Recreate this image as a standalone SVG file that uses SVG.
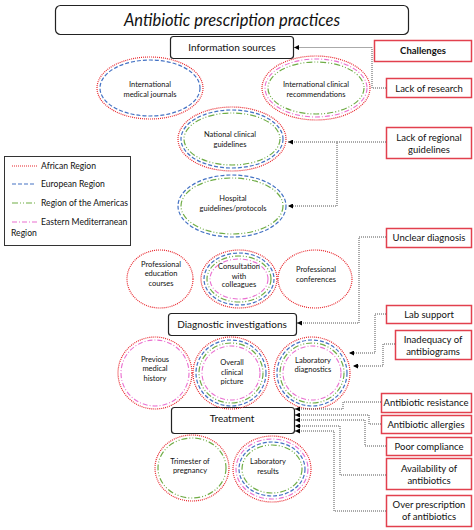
<svg xmlns="http://www.w3.org/2000/svg" width="474" height="530" viewBox="0 0 474 530">
<style>
text{font-family:Lato,"Liberation Sans",sans-serif;fill:#111;text-anchor:middle}
.box{fill:#fff;stroke:#222;stroke-width:1.2}
.ch{fill:#fff;stroke:#e2404e;stroke-width:1.5}
.ct{font-size:9.5px}
.et{font-size:7.5px}
.lt{font-size:8.6px;text-anchor:start}
.af{fill:none;stroke:#e8262c;stroke-width:1.2;stroke-dasharray:1 1}
.eu{fill:none;stroke:#4472c4;stroke-width:1.2;stroke-dasharray:4 2}
.am{fill:none;stroke:#70ad47;stroke-width:1.2;stroke-dasharray:6 2 1 2 1 2}
.em{fill:none;stroke:#ea6fd0;stroke-width:1.1;stroke-dasharray:5 2 1 2}
.cn{fill:none;stroke:#555;stroke-width:1;stroke-dasharray:1 1}
</style>
<defs>
<marker id="ar" viewBox="0 0 6 6" refX="6" refY="3" markerWidth="5" markerHeight="5" orient="auto" markerUnits="userSpaceOnUse"><path d="M0,0 L6,3 L0,6 z" fill="#000"/></marker>
</defs>
<rect width="474" height="530" fill="#fff"/>

<g id="title"><rect class="box" x="55.5" y="5.5" width="353" height="29" rx="5"/><text x="232" y="26" font-size="16.5" font-style="italic">Antibiotic prescription practices</text></g>
<g id="info"><rect class="box" x="170.5" y="36.5" width="123" height="22" rx="3"/><text x="232" y="51" font-size="10">Information sources</text></g>
<g id="diag"><rect class="box" x="168.5" y="313.5" width="128" height="22" rx="3"/><text x="232" y="328" font-size="10">Diagnostic investigations</text></g>
<g id="treat"><rect class="box" x="171.5" y="407.5" width="123" height="26" rx="3"/><text x="232" y="422" font-size="10">Treatment</text></g>

<g id="legend">
<rect x="4.5" y="156.5" width="126" height="89" fill="#fff" stroke="#333" stroke-width="1"/>
<line class="af" x1="12" y1="166" x2="37" y2="166"/><text class="lt" x="41" y="169">African Region</text>
<line class="eu" x1="12" y1="184" x2="34" y2="184"/><text class="lt" x="41" y="187">European Region</text>
<line class="am" x1="12" y1="203" x2="37" y2="203"/><text class="lt" x="41" y="206">Region of the Americas</text>
<line class="em" x1="12" y1="222" x2="37" y2="222"/><text class="lt" x="41" y="225">Eastern Mediterranean</text>
<text class="lt" x="11" y="236">Region</text>
</g>

<g id="imj"><ellipse class="af" cx="150" cy="88" rx="53" ry="31"/><ellipse class="eu" cx="150" cy="88" rx="50" ry="28"/><text class="et" x="150" y="87">International</text><text class="et" x="150" y="97">medical journals</text></g>
<g id="icr"><ellipse class="af" cx="316" cy="88" rx="54" ry="32"/><ellipse class="em" cx="316" cy="88" rx="51" ry="29"/><ellipse class="am" cx="316" cy="88" rx="48" ry="26"/><text class="et" x="316" y="87">International clinical</text><text class="et" x="316" y="97">recommendations</text></g>
<g id="ncg"><ellipse class="af" cx="232" cy="139" rx="54" ry="32"/><ellipse class="eu" cx="232" cy="139" rx="51" ry="29"/><ellipse class="am" cx="232" cy="139" rx="48" ry="26"/><text class="et" x="230" y="137">National clinical</text><text class="et" x="230" y="147">guidelines</text></g>
<g id="hgp"><ellipse class="eu" cx="232" cy="206" rx="54" ry="31"/><ellipse class="am" cx="232" cy="206" rx="51" ry="28"/><text class="et" x="233" y="201">Hospital</text><text class="et" x="233" y="211">guidelines/protocols</text></g>

<g id="pec"><ellipse class="af" cx="160" cy="279" rx="33" ry="29"/><text class="et" x="161" y="267">Professional</text><text class="et" x="161" y="276">education</text><text class="et" x="161" y="286">courses</text></g>
<g id="cwc"><ellipse class="af" cx="239" cy="279" rx="38" ry="29"/><ellipse class="eu" cx="239" cy="279" rx="35" ry="26"/><ellipse class="am" cx="239" cy="279" rx="32" ry="23"/><ellipse class="em" cx="239" cy="279" rx="29" ry="20"/><text class="et" x="239" y="269">Consultation</text><text class="et" x="239" y="279">with</text><text class="et" x="239" y="287">colleagues</text></g>
<g id="pc"><ellipse class="af" cx="315" cy="279" rx="37" ry="29"/><text class="et" x="316" y="272">Professional</text><text class="et" x="316" y="282">conferences</text></g>

<g id="pmh"><ellipse class="af" cx="155" cy="373" rx="37" ry="36"/><ellipse class="em" cx="155" cy="373" rx="34" ry="33"/><text class="et" x="155" y="362">Previous</text><text class="et" x="155" y="371">medical</text><text class="et" x="155" y="381">history</text></g>
<g id="ocp"><ellipse class="af" cx="231" cy="373" rx="38" ry="36"/><ellipse class="eu" cx="231" cy="373" rx="35" ry="33"/><ellipse class="am" cx="231" cy="373" rx="32" ry="30"/><ellipse class="em" cx="231" cy="373" rx="29" ry="27"/><text class="et" x="232" y="365">Overall</text><text class="et" x="232" y="375">clinical</text><text class="et" x="232" y="384">picture</text></g>
<g id="ld"><ellipse class="af" cx="312" cy="373" rx="38" ry="36"/><ellipse class="eu" cx="312" cy="373" rx="35" ry="33"/><ellipse class="am" cx="312" cy="373" rx="32" ry="30"/><ellipse class="em" cx="312" cy="373" rx="29" ry="27"/><text class="et" x="313" y="363">Laboratory</text><text class="et" x="313" y="372">diagnostics</text></g>

<g id="top"><ellipse class="af" cx="192" cy="468" rx="37" ry="33"/><ellipse class="am" cx="192" cy="468" rx="34" ry="30"/><text class="et" x="190" y="464">Trimester of</text><text class="et" x="190" y="473">pregnancy</text></g>
<g id="lr"><ellipse class="af" cx="272" cy="469" rx="39" ry="33"/><ellipse class="em" cx="272" cy="469" rx="36" ry="30"/><ellipse class="eu" cx="272" cy="469" rx="33" ry="27"/><ellipse class="am" cx="272" cy="469" rx="30" ry="24"/><text class="et" x="268" y="464">Laboratory</text><text class="et" x="268" y="474">results</text></g>

<g id="challenges">
<rect class="ch" x="374.5" y="40.5" width="97" height="21"/><text class="ct" x="423" y="54" font-weight="bold">Challenges</text>
<rect class="ch" x="386.5" y="78.5" width="85" height="19"/><text class="ct" x="429" y="91.5">Lack of research</text>
<rect class="ch" x="386.5" y="127.5" width="85" height="31"/><text class="ct" x="429" y="140.5">Lack of regional</text><text class="ct" x="429" y="152.5">guidelines</text>
<rect class="ch" x="386.5" y="228.5" width="85" height="19"/><text class="ct" x="429" y="241">Unclear diagnosis</text>
<rect class="ch" x="386.5" y="305.5" width="85" height="18"/><text class="ct" x="429" y="318">Lab support</text>
<rect class="ch" x="395.5" y="330.5" width="76" height="29"/><text class="ct" x="433" y="343">Inadequacy of</text><text class="ct" x="433" y="355">antibiograms</text>
<rect class="ch" x="381.5" y="393.5" width="90" height="19"/><text class="ct" x="426" y="406">Antibiotic resistance</text>
<rect class="ch" x="381.5" y="415.5" width="90" height="18"/><text class="ct" x="426" y="428">Antibiotic allergies</text>
<rect class="ch" x="386.5" y="437.5" width="85" height="18"/><text class="ct" x="429" y="450">Poor compliance</text>
<rect class="ch" x="386.5" y="458.5" width="85" height="31"/><text class="ct" x="429" y="471.5">Availability of</text><text class="ct" x="429" y="483.5">antibiotics</text>
<rect class="ch" x="386.5" y="495.5" width="85" height="31"/><text class="ct" x="429" y="507.5">Over prescription</text><text class="ct" x="429" y="519.5">of antibiotics</text>
</g>

<g id="connectors">
<path class="cn" d="M386,88 H372 V47.5 H294" marker-end="url(#ar)"/>
<path class="cn" d="M386,142 H337 V206 H288" marker-end="url(#ar)"/>
<path class="cn" d="M337,142 H288" marker-end="url(#ar)"/>
<path class="cn" d="M386,237 H359 V323 H297" marker-end="url(#ar)"/>
<path class="cn" d="M386,314 H375 V353 H349" marker-end="url(#ar)"/>
<path class="cn" d="M395,344 H383 V366 H353" marker-end="url(#ar)"/>
<path class="cn" d="M381,402 H343 V409 H295" marker-end="url(#ar)"/>
<path class="cn" d="M381,424 H369 V415 H295" marker-end="url(#ar)"/>
<path class="cn" d="M386,446 H365 V420 H295" marker-end="url(#ar)"/>
<path class="cn" d="M386,475 H340 V426 H295" marker-end="url(#ar)"/>
<path class="cn" d="M386,511 H334 V431 H295" marker-end="url(#ar)"/>
</g>
</svg>
